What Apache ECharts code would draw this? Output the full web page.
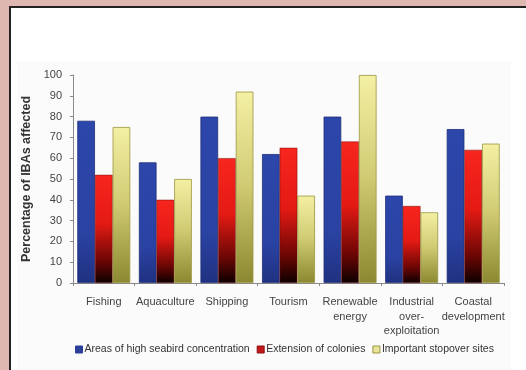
<!DOCTYPE html>
<html>
<head>
<meta charset="utf-8">
<script src="https://cdn.jsdelivr.net/npm/echarts@6/dist/echarts.min.js"></script>
<style>
  html, body { margin: 0; padding: 0; background: #deb8b0; }
  #frame { position: absolute; left: 9px; top: 6px; width: 517px; height: 364px;
           border-left: 2px solid #222; border-top: 2px solid #222; background: #fff; }
  #chart { position: absolute; left: 0; top: 0; width: 526px; height: 370px; }
</style>
</head>
<body>
<div id="frame"></div>
<div id="chart"></div>
<script>
const categories = ['Fishing', 'Aquaculture', 'Shipping', 'Tourism', 'Renewable\nenergy', 'Industrial\nover-\nexploitation', 'Coastal\ndevelopment'];
const seriesNames = ['Areas of high seabird concentration', 'Extension of colonies', 'Important stopover sites'];
const highConcentration = [78, 58, 80, 62, 80, 42, 74];
const colonyExtension = [52, 40, 60, 65, 68, 37, 64];
const stopoverSites = [75, 50, 92, 42, 100, 34, 67];
const yTicks = [0, 10, 20, 30, 40, 50, 60, 70, 80, 90, 100];

const G = echarts.graphic.LinearGradient;
const blueFill = new G(0, 0, 0, 1, [
  { offset: 0, color: '#2c46aa' }, { offset: 0.7, color: '#2a42a2' }, { offset: 1, color: '#1f3180' }
]);
const redFill = new G(0, 0, 0, 1, [
  { offset: 0, color: '#f7261e' }, { offset: 0.45, color: '#e41a14' },
  { offset: 0.8, color: '#6a0604' }, { offset: 1, color: '#0c0000' }
]);
const yellowFill = new G(0, 0, 0, 1, [
  { offset: 0, color: '#f4f0a4' }, { offset: 0.5, color: '#cfca72' }, { offset: 1, color: '#8a8830' }
]);

const chart = echarts.init(document.getElementById('chart'), null, { renderer: 'canvas' });
const font = '"Liberation Sans", Arial, sans-serif';

chart.setOption({
  animation: false,
  backgroundColor: 'transparent',
  graphic: [{
    type: 'rect', z: -10, silent: true,
    shape: { x: 17, y: 61, width: 494, height: 320 },
    style: { fill: '#fbfbfb' }
  }],
  textStyle: { fontFamily: font },
  grid: { left: 73, right: 22, top: 75, bottom: 87 },
  legend: {
    bottom: 10, left: 70,
    itemWidth: 7, itemHeight: 7, itemGap: 7,
    textStyle: { fontSize: 10.5, color: '#333', fontFamily: font, padding: [0, 0, 0, -3] },
    data: seriesNames.map((n, i) => ({
      name: n, icon: 'rect',
      itemStyle: { color: ['#2a3f9a', '#c01818', '#e8e49a'][i], borderColor: ['#2a3f9a', '#901010', '#9a9440'][i], borderWidth: 1 }
    }))
  },
  xAxis: {
    type: 'category',
    data: categories,
    axisLine: { lineStyle: { color: '#8a8a8a', width: 1 } },
    axisTick: { show: true, length: 3, lineStyle: { color: '#8a8a8a' } },
    axisLabel: { fontSize: 11, color: '#444', lineHeight: 14.5, margin: 12, interval: 0 }
  },
  yAxis: {
    type: 'value',
    min: 0, max: 100, interval: 10,
    name: 'Percentage of IBAs affected',
    nameLocation: 'middle',
    nameGap: 34,
    nameTextStyle: { fontSize: 12.5, fontWeight: 'bold', color: '#333', fontFamily: font },
    splitLine: { show: false },
    axisLine: { show: true, lineStyle: { color: '#8a8a8a', width: 1 } },
    axisTick: { show: true, length: 3, lineStyle: { color: '#8a8a8a' } },
    axisLabel: { fontSize: 11, color: '#444', margin: 11,
      formatter: v => (yTicks.indexOf(v) >= 0 ? String(v) : '') }
  },
  series: [
    { name: seriesNames[0], type: 'bar', data: highConcentration, barGap: '0%', barCategoryGap: '14%',
      itemStyle: { color: blueFill, borderColor: '#1e2e78', borderWidth: 0.8 } },
    { name: seriesNames[1], type: 'bar', data: colonyExtension, barGap: '0%', barCategoryGap: '14%',
      itemStyle: { color: redFill, borderColor: '#7a0a08', borderWidth: 0.5 } },
    { name: seriesNames[2], type: 'bar', data: stopoverSites, barGap: '0%', barCategoryGap: '14%',
      itemStyle: { color: yellowFill, borderColor: '#9c9640', borderWidth: 0.8 } }
  ]
});
</script>
</body>
</html>
